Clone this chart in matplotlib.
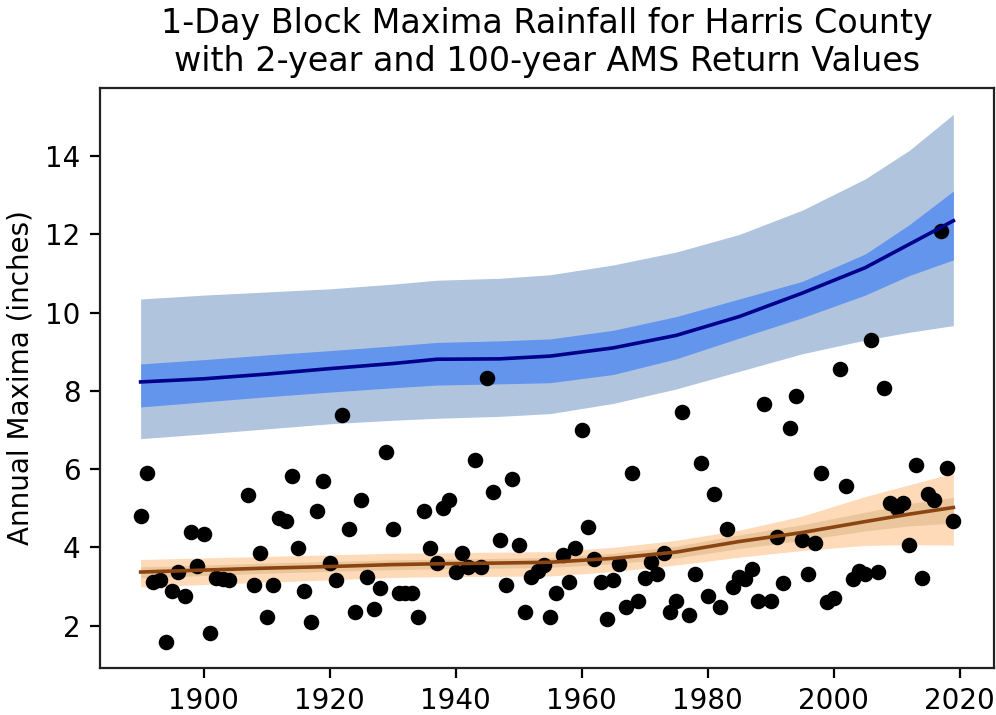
import matplotlib
matplotlib.use("Agg")
import matplotlib.pyplot as plt

# ---- observed annual maxima (inches) ----
years = [1890, 1891, 1892, 1893, 1894, 1895, 1896, 1897, 1898, 1899,
         1900, 1901, 1902, 1903, 1904, 1907, 1908, 1909,
         1910, 1911, 1912, 1913, 1914, 1915, 1916, 1917, 1918, 1919,
         1920, 1921, 1922, 1923, 1924, 1925, 1926, 1927, 1928, 1929,
         1930, 1931, 1932, 1933, 1934, 1935, 1936, 1937, 1938, 1939,
         1940, 1941, 1942, 1943, 1944, 1945, 1946, 1947, 1948, 1949,
         1950, 1951, 1952, 1953, 1954, 1955, 1956, 1957, 1958, 1959,
         1960, 1961, 1962, 1963, 1964, 1965, 1966, 1967, 1968, 1969,
         1970, 1971, 1972, 1973, 1974, 1975, 1976, 1977, 1978, 1979,
         1980, 1981, 1982, 1983, 1984, 1985, 1986, 1987, 1988, 1989,
         1990, 1991, 1992, 1993, 1994, 1995, 1996, 1997, 1998, 1999,
         2000, 2001, 2002, 2003, 2004, 2005, 2006, 2007, 2008, 2009,
         2010, 2011, 2012, 2013, 2014, 2015, 2016, 2017, 2018, 2019]
maxima = [4.81, 5.89, 3.11, 3.17, 1.59, 2.89, 3.38, 2.76, 4.40, 3.53,
          4.33, 1.81, 3.21, 3.19, 3.17, 5.35, 3.04, 3.85,
          2.21, 3.04, 4.76, 4.67, 5.82, 3.99, 2.89, 2.09, 4.94, 5.69,
          3.60, 3.17, 7.39, 4.46, 2.36, 5.21, 3.24, 2.42, 2.96, 6.44,
          4.46, 2.83, 2.83, 2.83, 2.21, 4.94, 3.99, 3.60, 5.01, 5.22,
          3.36, 3.86, 3.51, 6.23, 3.51, 8.33, 5.42, 4.19, 3.04, 5.76,
          4.06, 2.36, 3.25, 3.40, 3.55, 2.21, 2.83, 3.80, 3.11, 3.99,
          6.99, 4.53, 3.70, 3.11, 2.16, 3.17, 3.57, 2.48, 5.90, 2.63,
          3.23, 3.63, 3.31, 3.86, 2.36, 2.63, 7.46, 2.27, 3.31, 6.17,
          2.76, 5.36, 2.48, 4.47, 2.98, 3.25, 3.18, 3.45, 2.63, 7.67,
          2.63, 4.27, 3.10, 7.05, 7.86, 4.19, 3.31, 4.12, 5.90, 2.61,
          2.70, 8.55, 5.56, 3.18, 3.40, 3.32, 9.31, 3.38, 8.07, 5.14,
          5.01, 5.14, 4.06, 6.10, 3.23, 5.36, 5.21, 12.09, 6.04, 4.67]

# ---- return-value curves (read at knot years) ----
band_years = [1890, 1900, 1910, 1920, 1930, 1937, 1947, 1955,
              1965, 1975, 1985, 1995, 2005, 2012, 2019]

rv100_mean = [8.23, 8.31, 8.43, 8.57, 8.70, 8.81, 8.82, 8.89,
              9.10, 9.42, 9.90, 10.50, 11.15, 11.75, 12.35]
rv100_in_hi = [8.69, 8.80, 8.92, 9.03, 9.15, 9.24, 9.28, 9.33,
               9.55, 9.90, 10.35, 10.80, 11.50, 12.25, 13.11]
rv100_in_lo = [7.59, 7.72, 7.85, 7.97, 8.08, 8.15, 8.18, 8.21,
               8.42, 8.82, 9.35, 9.87, 10.45, 10.95, 11.35]
rv100_out_hi = [10.35, 10.45, 10.53, 10.61, 10.73, 10.83, 10.88, 10.97,
                11.22, 11.55, 12.00, 12.62, 13.42, 14.15, 15.07]
rv100_out_lo = [6.78, 6.90, 7.03, 7.16, 7.25, 7.30, 7.35, 7.42,
                7.68, 8.05, 8.50, 8.95, 9.30, 9.50, 9.67]

rv2_mean = [3.37, 3.42, 3.47, 3.51, 3.56, 3.58, 3.60, 3.62,
            3.72, 3.88, 4.15, 4.38, 4.66, 4.85, 5.02]
rv2_in_hi = [3.50, 3.55, 3.60, 3.64, 3.68, 3.70, 3.72, 3.74,
             3.85, 4.03, 4.32, 4.58, 4.90, 5.12, 5.28]
rv2_in_lo = [3.22, 3.28, 3.34, 3.39, 3.43, 3.45, 3.47, 3.49,
             3.58, 3.73, 3.97, 4.18, 4.42, 4.55, 4.62]
rv2_out_hi = [3.69, 3.73, 3.77, 3.81, 3.85, 3.86, 3.88, 3.89,
              4.00, 4.18, 4.44, 4.80, 5.30, 5.60, 5.90]
rv2_out_lo = [2.99, 3.05, 3.11, 3.17, 3.23, 3.25, 3.26, 3.27,
              3.38, 3.55, 3.75, 3.92, 4.05, 4.07, 4.06]

title = "1-Day Block Maxima Rainfall for Harris County\nwith 2-year and 100-year AMS Return Values"
ylabel = "Annual Maxima (inches)"

fig = plt.figure(figsize=(4.98, 3.575), dpi=200)
ax = fig.add_axes([0.1004, 0.0657, 0.8976, 0.8112])

ax.fill_between(band_years, rv100_out_lo, rv100_out_hi, color="lightsteelblue", lw=0)
ax.fill_between(band_years, rv100_in_lo, rv100_in_hi, color="cornflowerblue", lw=0)
ax.fill_between(band_years, rv2_out_lo, rv2_out_hi, color="peachpuff", lw=0)
ax.fill_between(band_years, rv2_in_lo, rv2_in_hi, color="burlywood", lw=0, alpha=0.6)

ax.scatter(years, maxima, s=21, color="black", zorder=2.5)

ax.plot(band_years, rv100_mean, color="darkblue", lw=1.3, zorder=3)
ax.plot(band_years, rv2_mean, color="saddlebrown", lw=1.3, zorder=3)

ax.set_title(title, fontsize=12)
ax.set_ylabel(ylabel, fontsize=10)
ax.tick_params(labelsize=10)
for sp in ax.spines.values():
    sp.set_color("#222222")

fig.savefig("out.png", dpi=200)
